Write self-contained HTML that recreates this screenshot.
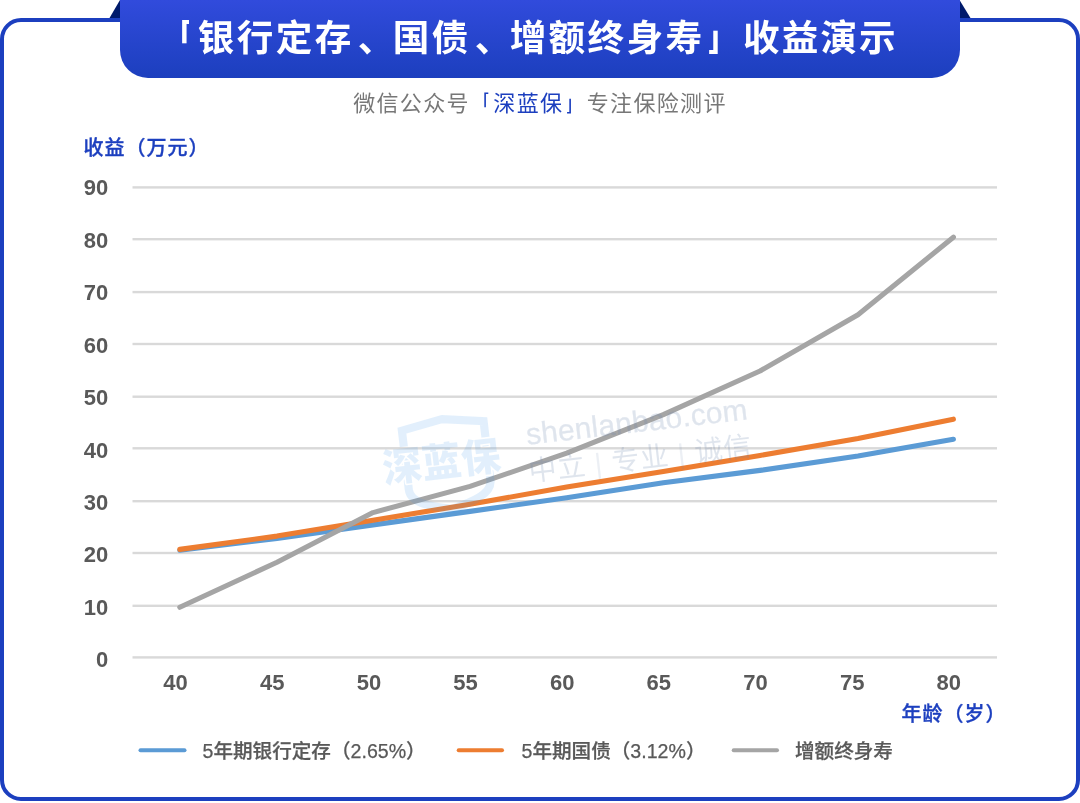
<!DOCTYPE html>
<html lang="zh-CN"><head><meta charset="utf-8"><title>收益演示</title>
<style>
html,body{margin:0;padding:0;background:#fff;}
body{width:1080px;height:803px;position:relative;overflow:hidden;font-family:"Liberation Sans","Noto Sans CJK SC",sans-serif;}
.frame{position:absolute;left:0;top:18px;width:1080px;height:782.5px;box-sizing:border-box;border:4.5px solid #1c3fbf;border-radius:21px;}
.banner{position:absolute;left:120px;top:0;width:839.5px;height:78.3px;background:linear-gradient(#314bdc,#1c3fbe);border-radius:0 0 28px 28px;}
.title{position:absolute;left:158.8px;top:0;height:78px;line-height:78px;color:#fff;font-weight:700;font-size:36.6px;letter-spacing:2.4px;white-space:nowrap;}
.title .t2{margin-left:-0.5px;letter-spacing:2.1px;}
.title i{font-style:normal;position:relative;left:4px;top:1px;}
.title .lb{display:inline-block;clip-path:inset(0 8.8px 0 0);}
.title .rb{display:inline-block;clip-path:inset(0 0 0 4.6px);}
.sub{position:absolute;left:0;top:88px;width:1080px;height:32px;line-height:32px;text-align:center;color:#777;font-size:22px;letter-spacing:1.35px;white-space:nowrap;}
.sub b{color:#1c3fbf;font-weight:400;}
.sub .lb{display:inline-block;clip-path:inset(0 5px 0 0);}
.sub .rb{display:inline-block;clip-path:inset(0 0 0 3.7px);}
.ytitle,.xtitle{position:absolute;color:#1c3fbf;font-weight:500;-webkit-text-stroke:0.35px #1c3fbf;font-size:20px;letter-spacing:1px;line-height:30px;white-space:nowrap;}
.ytitle{left:83.5px;top:132.5px;}
.xtitle{left:901.5px;top:699px;}
.yl{position:absolute;left:40px;width:68.3px;height:30px;line-height:30px;text-align:right;color:#595959;font-weight:700;font-size:22px;}
.xl{position:absolute;top:667.5px;width:60px;height:30px;line-height:30px;text-align:center;color:#595959;font-weight:700;font-size:22px;}
.lg{position:absolute;top:736px;height:30px;line-height:30px;color:#595959;font-weight:500;-webkit-text-stroke:0.25px #595959;font-size:19.6px;white-space:nowrap;}
svg{position:absolute;left:0;top:0;}
</style></head><body>
<div class="frame"></div>
<svg width="1080" height="803" viewBox="0 0 1080 803">
<polygon points="109.5,18 120,0 120,18" fill="#001a6b"/>
<polygon points="959.5,0 970.5,18 959.5,18" fill="#001a6b"/>
</svg>
<div class="banner"></div>
<div class="title"><span class="lb">「</span>银行定存<i>、</i>国债<i>、</i>增额终身寿<span class="rb">」</span><span class="t2">收益演示</span></div>
<div class="sub">微信公众号<b><span class="lb">「</span>深蓝保<span class="rb">」</span></b>专注保险测评</div>
<div class="ytitle">收益（万元）</div>
<div class="yl" style="top:173.30px">90</div><div class="yl" style="top:225.74px">80</div><div class="yl" style="top:278.18px">70</div><div class="yl" style="top:330.62px">60</div><div class="yl" style="top:383.06px">50</div><div class="yl" style="top:435.50px">40</div><div class="yl" style="top:487.94px">30</div><div class="yl" style="top:540.38px">20</div><div class="yl" style="top:592.82px">10</div><div class="yl" style="top:645.26px">0</div>
<svg width="1080" height="803" viewBox="0 0 1080 803">
<rect x="132.5" y="186.20" width="864.5" height="2.4" fill="#d9d9d9"/><rect x="132.5" y="238.00" width="864.5" height="2.4" fill="#d9d9d9"/><rect x="132.5" y="290.90" width="864.5" height="2.4" fill="#d9d9d9"/><rect x="132.5" y="342.80" width="864.5" height="2.4" fill="#d9d9d9"/><rect x="132.5" y="395.50" width="864.5" height="2.4" fill="#d9d9d9"/><rect x="132.5" y="447.10" width="864.5" height="2.4" fill="#d9d9d9"/><rect x="132.5" y="500.00" width="864.5" height="2.4" fill="#d9d9d9"/><rect x="132.5" y="551.80" width="864.5" height="2.4" fill="#d9d9d9"/><rect x="132.5" y="604.60" width="864.5" height="2.4" fill="#d9d9d9"/><rect x="132.5" y="656.20" width="864.5" height="2.4" fill="#d9d9d9"/>
<g fill="none" stroke-width="5.1" stroke-linecap="round" stroke-linejoin="round">
<polyline points="179.8,550.2 277,538.4 373,524.9 470,511.4 566.7,497.7 663.3,482.8 760,470.4 858,456.0 953.4,439.3" stroke="#5b9bd5"/>
<polyline points="179.8,549.4 277,536.1 373,520.3 470,504.2 566.7,487.1 663.3,471.5 760,455.4 858,438.6 953.4,419.2" stroke="#ed7d31"/>
<polyline points="179.8,607.3 277,562.2 373,512.6 470,486.4 566.7,453.2 663.3,414.6 760,371 858,314.8 953.4,237.2" stroke="#a5a5a5"/>
<line x1="140.5" y1="750.2" x2="184.5" y2="750.2" stroke="#5b9bd5" stroke-width="4"/>
<line x1="458.7" y1="750.2" x2="502" y2="750.2" stroke="#ed7d31" stroke-width="4"/>
<line x1="733.7" y1="750.2" x2="777" y2="750.2" stroke="#a5a5a5" stroke-width="4"/>
</g>
<defs><mask id="wmk" maskUnits="userSpaceOnUse" x="-70" y="-70" width="140" height="140"><rect x="-70" y="-70" width="140" height="140" fill="#fff"/><text x="-5.4" y="11.5" text-anchor="middle" font-family="'Liberation Sans','Noto Sans CJK SC',sans-serif" font-weight="900" font-size="39.5" fill="#000" stroke="#000" stroke-width="3.2" stroke-linejoin="round">深蓝保</text></mask></defs>
<g transform="translate(447.2 464) rotate(-6.65)" fill="#3c96eb" opacity="0.14">
<path mask="url(#wmk)" d="M0,-45.2 L41.1,-38.4 L41.1,21 C41.1,35 21,40.5 0,45.2 C-21,40.5 -41.1,35 -41.1,21 L-41.1,-38.4 Z" fill="none" stroke="#3c96eb" stroke-width="8.2" stroke-linejoin="miter"/>
<text x="-5.4" y="11.5" text-anchor="middle" font-family="'Liberation Sans','Noto Sans CJK SC',sans-serif" font-weight="900" font-size="39.5">深蓝保</text>
</g>
<g fill="#6e87af" opacity="0.21" font-family="'Liberation Sans','Noto Sans CJK SC',sans-serif">
<text transform="translate(527.2 444.8) rotate(-6.58)" font-size="30" textLength="222.6" stroke="#6e87af" stroke-width="0.3">shenlanbao.com</text>
<text transform="translate(529.7 481.2) rotate(-6.58)" font-size="28" textLength="224">中立 <tspan fill-opacity="0.6">|</tspan> 专业 <tspan fill-opacity="0.6">|</tspan> 诚信</text>
</g>
</svg>
<div class="xl" style="left:145.60px">40</div><div class="xl" style="left:242.25px">45</div><div class="xl" style="left:338.90px">50</div><div class="xl" style="left:435.55px">55</div><div class="xl" style="left:532.20px">60</div><div class="xl" style="left:628.85px">65</div><div class="xl" style="left:725.50px">70</div><div class="xl" style="left:822.15px">75</div><div class="xl" style="left:918.80px">80</div>
<div class="xtitle">年龄（岁）</div>
<div class="lg" style="left:202.5px">5年期银行定存（2.65%）</div>
<div class="lg" style="left:521.5px">5年期国债（3.12%）</div>
<div class="lg" style="left:795px">增额终身寿</div>
</body></html>
